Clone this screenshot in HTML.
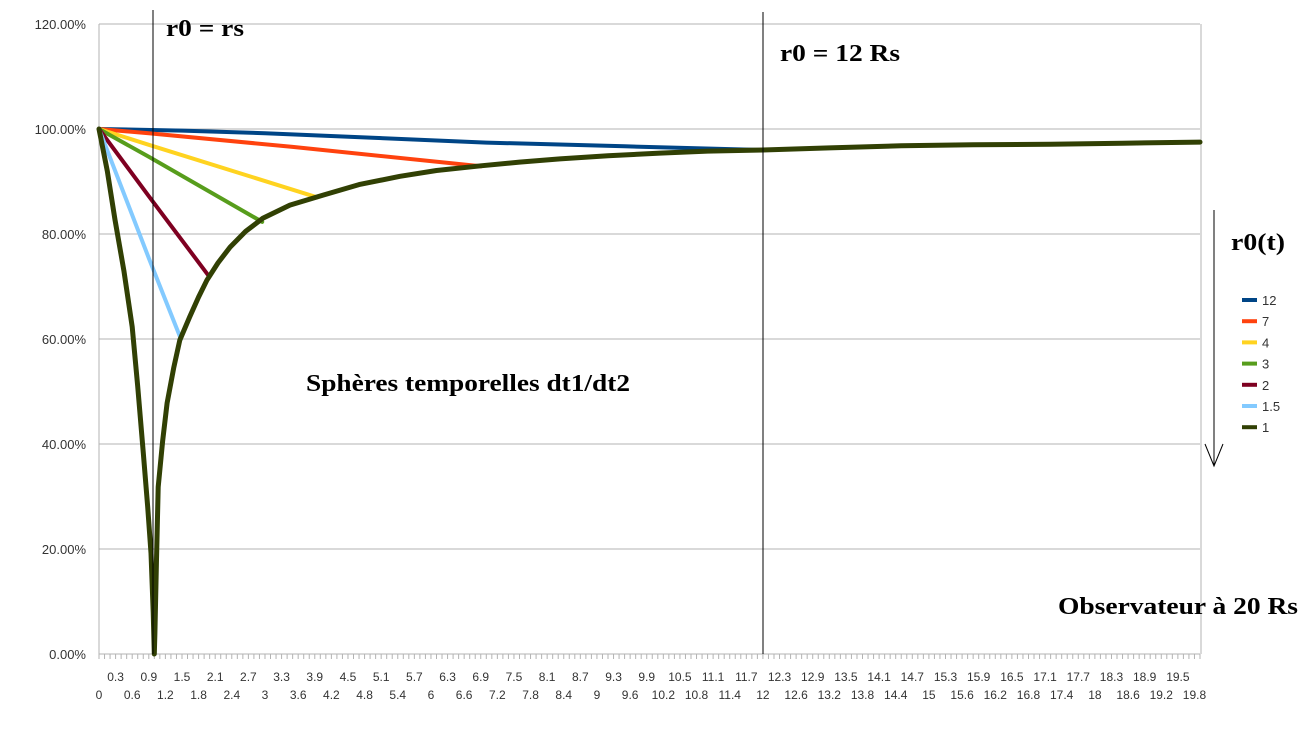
<!DOCTYPE html>
<html><head><meta charset="utf-8">
<style>
html,body{margin:0;padding:0;background:#fff;}
svg{display:block;font-family:"Liberation Sans",sans-serif;}
.ann{font-family:"Liberation Serif",serif;font-weight:bold;fill:#000;}
</style></head>
<body>
<svg id="chart" width="1316" height="731" viewBox="0 0 1316 731" xmlns="http://www.w3.org/2000/svg">
<g id="grid"></g>
<g id="yaxis"></g>
<g id="xaxis"></g>
<g id="series"></g>
<line x1="153" y1="10" x2="153" y2="654" stroke="#000" stroke-width="1"/>
<line x1="763" y1="12" x2="763" y2="654" stroke="#000" stroke-width="1"/>
<text class="ann" x="166" y="36" font-size="24" textLength="78" lengthAdjust="spacingAndGlyphs">r0 = rs</text>
<text class="ann" x="780" y="61" font-size="24" textLength="120" lengthAdjust="spacingAndGlyphs">r0 = 12 Rs</text>
<text class="ann" x="306" y="391" font-size="24" textLength="324" lengthAdjust="spacingAndGlyphs">Sphères temporelles dt1/dt2</text>
<text class="ann" x="1058" y="614" font-size="24" textLength="240" lengthAdjust="spacingAndGlyphs">Observateur à 20 Rs</text>
<text class="ann" x="1231" y="250" font-size="24" textLength="54" lengthAdjust="spacingAndGlyphs">r0(t)</text>
<g stroke="#000" stroke-width="1" fill="none">
<line x1="1214" y1="210" x2="1214" y2="466"/>
<polyline points="1205,444 1214,466 1223,444"/>
</g>
<g id="legend"></g>
</svg>
<script>
const yTicks=[0,20,40,60,80,100,120];
const seriesNames=["12","7","4","3","2","1.5","1"];
const x12=[0,1.5,3,5,7,9.5,12]; const y12=[100,99.7,99.2,98.3,97.4,96.7,96];
const x7=[0,0.9,3.5,6.9]; const y7=[100,99.2,96.6,92.9];
const x4=[0,0.9,3.94]; const y4=[100,97,87];
const x3=[0,0.9,2.95]; const y3=[100,94.7,82.3];
const x2=[0,0.9,1.97]; const y2=[100,87.2,72.2];
const x15=[0,0.9,1.48]; const y15=[100,75.4,60];
const x1=[0,0.15,0.29,0.45,0.6,0.7,0.8,0.88,0.94,0.98,1.0,1.01,1.04,1.07,1.15,1.23,1.35,1.46,1.64,1.8,1.95,2.15,2.37,2.65,2.96,3.45,4.05,4.7,5.44,6.1,6.9,7.6,8.33,9.2,10.14,11,12,13.2,14.5,15.8,17.2,18.5,19.9];
const y1=[100,92,82.7,73,62.3,51,38.3,28,19.2,8,0,4,18,31.8,40.5,47.8,54.5,59.8,64.2,68,71.2,74.5,77.5,80.5,83,85.5,87.4,89.4,91,92.1,93,93.7,94.3,94.9,95.4,95.8,96,96.4,96.8,97,97.1,97.3,97.5];
const colors=["#004586","#ff420e","#ffd320","#579d1c","#7e0021","#83caff","#314004"];
const NS="http://www.w3.org/2000/svg";
const X0=99,X1=1200,Y0=654,Y1=24,NCAT=200;
const step=(X1-X0)/(NCAT-1);
function xs(v){return X0+v*10*step;}
function ys(v){return Y0-(v/120)*(Y0-Y1);}
function mk(tag,attrs,parent){const e=document.createElementNS(NS,tag);for(const k in attrs)e.setAttribute(k,attrs[k]);parent.appendChild(e);return e;}
const grid=document.getElementById('grid'),ya=document.getElementById('yaxis'),xa=document.getElementById('xaxis'),sg=document.getElementById('series'),lg=document.getElementById('legend');
yTicks.forEach(t=>{
  const l=mk('line',{x1:X0,x2:X1,y1:ys(t),y2:ys(t),stroke:'#b3b3b3','stroke-width':1},grid);
  
  
  const tx=mk('text',{x:86,y:ys(t)+5,'text-anchor':'end','font-size':13,fill:'#333'},ya);
  tx.textContent=t.toFixed(2)+'%';
  
  
});
const la=mk('line',{x1:X0,x2:X0,y1:Y1,y2:Y0,stroke:'#b3b3b3','stroke-width':1},ya);


const ra=mk('line',{x1:X1+1,x2:X1+1,y1:Y1,y2:Y0,stroke:'#b3b3b3','stroke-width':1},ya);


for(let i=0;i<NCAT;i++){
  const x=X0+i*step;
  const t=mk('line',{x1:x,x2:x,y1:Y0,y2:Y0+5,stroke:'#b3b3b3','stroke-width':1},xa);
  
  
  if(i%3===0){
    const upper=(i/3)%2===1;
    const tx=mk('text',{x:x,y:upper?681:699,'text-anchor':'middle','font-size':12,fill:'#333'},xa);
    tx.textContent=String(Math.round(i)/10);
    
    
  }
}
const ax=mk('line',{x1:X0,x2:X1,y1:Y0,y2:Y0,stroke:'#b3b3b3','stroke-width':1},xa);


const allX=[x12,x7,x4,x3,x2,x15,x1],allY=[y12,y7,y4,y3,y2,y15,y1];
allX.forEach((xarr,si)=>{
  const pts=xarr.map((v,j)=>xs(v).toFixed(1)+','+ys(allY[si][j]).toFixed(1)).join(' ');
  const p=mk('polyline',{points:pts,fill:'none',stroke:colors[si],'stroke-width':si===6?5:4,'stroke-linejoin':'round','stroke-linecap':'round'},sg);
  
  
});
seriesNames.forEach((n,i)=>{
  const y=300+i*21.2;
  const g=mk('g',{},lg);
  
  
  mk('line',{x1:1242,x2:1257,y1:y,y2:y,stroke:colors[i],'stroke-width':4},g);
  const t=mk('text',{x:1262,y:y+5,'font-size':13,fill:'#333'},g);
  t.textContent=n;
});
</script>
</body></html>
